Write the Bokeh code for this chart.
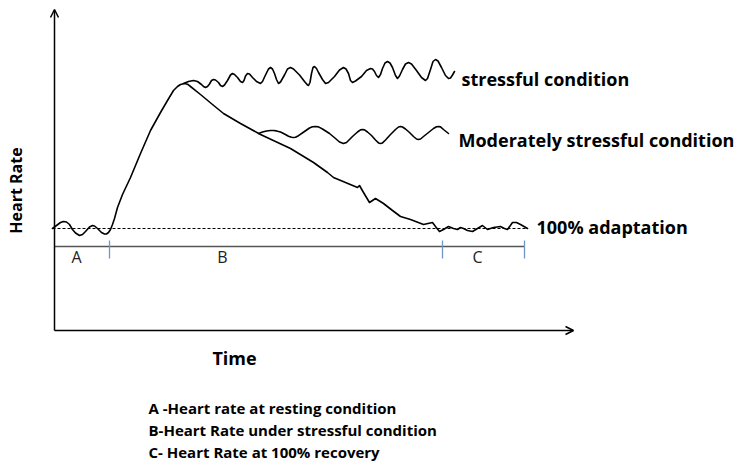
from bokeh.plotting import figure
from bokeh.models import Range1d, Arrow, OpenHead
from bokeh.core.properties import value
from bokeh.embed import file_html
from bokeh.resources import INLINE
import math

# ---- data (time on x, heart rate on y; origin at the axes corner) ----
main_time = [-2, 2, 6, 9, 12, 15, 18, 21, 25, 28, 31, 35, 38, 40, 43, 47, 50, 52, 54, 56,
             58, 60, 63, 68, 76, 86, 96, 106, 113, 119, 123, 126, 130, 133, 136, 146, 158,
             169, 186, 206, 221, 236, 259, 273, 279, 291, 303, 305, 309, 315, 321, 329, 338,
             346, 356, 369, 378, 381, 385, 389, 394, 399, 403, 406, 409, 413, 418, 423, 428,
             433, 439, 446, 450, 453, 458, 462, 466, 473]
main_rate = [102, 105, 108, 109, 108.5, 106, 101, 97.5, 95, 96, 99, 103.5, 105, 104.5, 102,
             98, 96.5, 96.5, 98, 101, 106, 112, 123, 136, 153, 177, 200, 218, 230, 240, 244,
             246, 247, 246.3, 244, 236, 226, 217, 207, 196, 189, 182, 168, 158, 153, 148, 143,
             145, 138, 128, 132, 127, 120, 114, 111, 106, 108, 104, 99, 101, 104, 102, 101,
             103, 102, 100, 99, 102, 105, 101, 103, 104, 102, 101, 108, 108, 106, 102]

stress_time = [129, 134, 139, 143, 147, 149, 151, 153, 155, 157, 159, 161, 164, 166, 168, 170,
               173, 176, 178, 180, 183, 186, 188, 189.5, 191, 193, 195, 198, 202, 206, 208,
               211, 214, 216, 218, 220, 222, 224, 226, 230, 233, 236, 239, 245, 250, 253, 254,
               255.5, 257, 258.5, 260, 262, 264, 268, 271, 274, 280, 285, 289, 291.5, 294, 296,
               298, 301, 307, 312, 316, 318, 320, 322, 324, 326, 328, 330.5, 333, 335.5, 338,
               341, 343, 345, 348, 351, 354, 357, 362, 367, 371, 373, 376, 378.5, 381, 383.5,
               387, 391, 394, 396, 398, 400]
stress_rate = [247, 249, 250, 249, 246, 244, 243, 244, 246.5, 250, 251, 250.5, 248, 245, 244,
               245.5, 250, 255.5, 257, 256, 253, 249, 248, 250, 254.5, 257, 256.5, 253, 249,
               247, 249, 255.5, 261.5, 263, 261.5, 257, 251, 247, 248.5, 255.5, 261.5, 263,
               261.5, 255.5, 249, 245.5, 245, 248, 257, 263, 264, 262, 258, 251, 247, 248, 254,
               260.5, 263, 261.5, 257, 250, 248, 249.5, 254, 260, 262, 261.5, 259, 255, 253,
               256, 262, 267.5, 269, 267.5, 263, 255, 252, 254.5, 261, 266.5, 268, 266.5, 260,
               253, 250, 252, 261, 269, 271, 269.5, 263, 255, 252, 252.5, 255.5, 259]

moderate_time = [204, 208, 212, 216, 219, 222, 226, 230, 234, 237, 239, 241, 244, 250, 255,
                 258, 261, 264, 268, 275, 281, 285, 289, 292, 298, 303, 306, 308, 310, 313,
                 317, 321, 324, 326, 328, 331, 336, 341, 344, 346, 348, 351, 355, 359, 362,
                 364, 366, 369, 374, 379, 382, 384, 386, 389, 394]
moderate_rate = [197, 198.5, 199.5, 200, 200, 199.6, 198.5, 196.5, 194.3, 193.2, 193, 193.2,
                 194.8, 199, 202.5, 203.7, 204, 203.6, 201.5, 197, 192, 188.5, 187, 188, 194,
                 198.5, 200.6, 201, 200.6, 198.5, 195, 190.5, 187.6, 187, 187.6, 190.5, 196,
                 201, 203.5, 204, 203.5, 201.5, 198, 194, 191.5, 191, 191.5, 194, 198, 202,
                 203.7, 204, 203.6, 201, 197]

baseline_rate = 102
baseline_span = [-2, 473]

phase_labels = ["A", "B", "C"]
phase_bounds = [0, 55, 388, 470]
phase_label_time = [22, 168, 423]

curve_labels = ["stressful condition", "Moderately stressful condition", "100% adaptation"]
curve_label_time = [407, 404, 482]
curve_label_rate = [252, 191, 104]

legend_lines = ["A -Heart rate at  resting condition",
                "B-Heart Rate under stressful condition",
                "C- Heart Rate at 100% recovery"]
legend_rate = [-77, -99, -121]

x_title = "Time"
y_title = "Heart Rate"

FONT = value("Open Sans")

p = figure(width=742, height=469, output_backend="svg", toolbar_location=None,
           x_range=Range1d(-54, 688), y_range=Range1d(-139, 330),
           min_border=0, x_axis_type=None, y_axis_type=None)
p.grid.visible = False
p.outline_line_color = None
p.background_fill_color = "white"

# axes with arrows
p.add_layout(Arrow(end=OpenHead(size=8, line_width=1.5, line_color="black"),
                   x_start=0, y_start=0, x_end=0, y_end=321,
                   line_width=1.5, line_color="black"))
p.add_layout(Arrow(end=OpenHead(size=8, line_width=1.5, line_color="black"),
                   x_start=0, y_start=0, x_end=519, y_end=0,
                   line_width=1.5, line_color="black"))

# 100% adaptation baseline
p.line(baseline_span, [baseline_rate, baseline_rate], line_color="black",
       line_width=1, line_dash="3 2")

# phase bar
seg_rate = 84
p.line([phase_bounds[0], phase_bounds[-1]], [seg_rate, seg_rate], line_color="#555555", line_width=1.5)
p.segment(x0=phase_bounds[1:], y0=[seg_rate + 6] * 3, x1=phase_bounds[1:], y1=[seg_rate - 12] * 3,
          line_color="#6f96cc", line_width=1.3)
p.text(x=phase_label_time, y=[seg_rate - 10] * 3, text=phase_labels, text_align="center",
       text_baseline="middle", text_font=FONT, text_font_size="16px", text_color="#222222")

# curves
for t, r in [(main_time, main_rate), (stress_time, stress_rate), (moderate_time, moderate_rate)]:
    p.line(t, r, line_color="black", line_width=1.6, line_join="round", line_cap="round")

# labels
p.text(x=curve_label_time, y=curve_label_rate, text=curve_labels, text_align="left",
       text_baseline="middle", text_font=FONT, text_font_style="bold",
       text_font_size="18px", text_color="black")

p.text(x=[180], y=[-27], text=[x_title], text_align="center", text_baseline="middle",
       text_font=FONT, text_font_style="bold", text_font_size="18px", text_color="black")
p.text(x=[-39], y=[140], text=[y_title], angle=math.pi / 2, text_align="center",
       text_baseline="middle", text_font=FONT, text_font_style="bold",
       text_font_size="16px", text_color="black")

p.text(x=[94] * 3, y=legend_rate, text=legend_lines, text_align="left",
       text_baseline="middle", text_font=FONT, text_font_style="bold",
       text_font_size="15px", text_color="black")

open("out.html", "w").write(file_html(p, INLINE))
